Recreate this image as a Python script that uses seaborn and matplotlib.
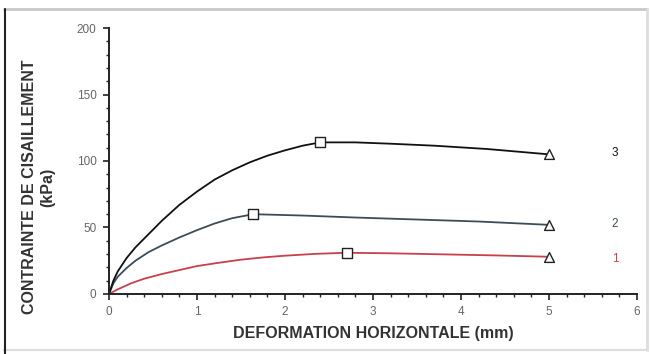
"""Shear stress vs horizontal displacement (three curves)."""

import matplotlib

matplotlib.use("Agg")
import matplotlib.pyplot as plt  # noqa: E402
import pandas as pd  # noqa: E402
import seaborn as sns  # noqa: E402
from matplotlib.ticker import MultipleLocator  # noqa: E402

# values
curve_ids = ["1", "2", "3"]
x_1 = [0, 0.1, 0.25, 0.4, 0.6, 0.8, 1.0, 1.25, 1.5, 1.75, 2.0, 2.35, 2.7,
       3.2, 3.8, 4.4, 5.0]
y_1 = [0, 3.5, 8, 11.5, 15, 18, 21, 23.5, 25.8, 27.5, 28.8, 30.2, 31,
       30.6, 29.8, 29, 28]
x_2 = [0, 0.05, 0.1, 0.2, 0.3, 0.45, 0.6, 0.8, 1.0, 1.2, 1.4, 1.64,
       2.2, 2.8, 3.5, 4.2, 5.0]
y_2 = [0, 8, 13, 19.5, 25, 31.5, 36.5, 42.5, 48, 53, 57, 60,
       59, 57.5, 56, 54.5, 52]
x_3 = [0, 0.05, 0.1, 0.2, 0.3, 0.45, 0.6, 0.8, 1.0, 1.2, 1.4, 1.6, 1.8,
       2.0, 2.2, 2.4, 2.8, 3.2, 3.7, 4.3, 5.0]
y_3 = [0, 10, 17, 27, 35, 45, 55, 67, 77, 86, 93, 99, 104,
       108, 111.5, 114, 114, 113, 111.5, 109, 105]
peak_x = [2.7, 1.64, 2.4]
peak_y = [31, 60, 114]
end_x = [5.0, 5.0, 5.0]
end_y = [28, 52, 105]
label_y = [26, 53, 106]
colors = ["#c8404c", "#3e4c58", "#111111"]

sns.set_theme(style="ticks")
plt.rcParams["font.family"] = ["Liberation Sans", "DejaVu Sans"]

rows = []
for cid, xs, ys in zip(curve_ids, [x_1, x_2, x_3], [y_1, y_2, y_3]):
    for x, y in zip(xs, ys):
        rows.append({"curve": cid, "x": x, "y": y})
df = pd.DataFrame(rows)

fig = plt.figure(figsize=(6.51, 3.54), dpi=100)
ax = fig.add_axes([0.1674, 0.1695, 0.811, 0.7514])

sns.lineplot(data=df, x="x", y="y", hue="curve", palette=dict(zip(curve_ids, colors)),
             sort=False, linewidth=1.3, legend=False, ax=ax)

marks = pd.DataFrame({"curve": curve_ids, "px": peak_x, "py": peak_y,
                      "ex": end_x, "ey": end_y})
sns.scatterplot(data=marks, x="px", y="py", marker="s", s=50, facecolor="white",
                edgecolor="#222222", linewidth=1.0, zorder=5, legend=False, ax=ax)
sns.scatterplot(data=marks, x="ex", y="ey", marker="^", s=50, facecolor="white",
                edgecolor="#222222", linewidth=1.0, zorder=5, legend=False, ax=ax)

for cid, ly, c in zip(curve_ids, label_y, colors):
    ax.text(5.75, ly, cid, fontsize=8.5, color=c, ha="center", va="center")

ax.set_xlim(0, 6)
ax.set_ylim(0, 200)
ax.xaxis.set_major_locator(MultipleLocator(1))
ax.xaxis.set_minor_locator(MultipleLocator(0.2))
ax.yaxis.set_major_locator(MultipleLocator(50))
ax.yaxis.set_minor_locator(MultipleLocator(10))
ax.tick_params(axis="both", which="major", labelsize=8.5, length=4, width=1.2,
               colors="#222222", labelcolor="#666666", pad=5)
ax.tick_params(axis="both", which="minor", length=2.5, width=1.0, colors="#222222")
for s in ["left", "bottom"]:
    ax.spines[s].set_linewidth(1.4)
    ax.spines[s].set_color("#222222")
sns.despine(ax=ax)

ax.set_xlabel("DEFORMATION HORIZONTALE (mm)", fontsize=11.5, fontweight="bold",
              color="#333333", va="center")
ax.xaxis.set_label_coords(0.5, -0.147)
ax.set_ylabel("CONTRAINTE DE CISAILLEMENT\n(kPa)", fontsize=11.5, fontweight="bold",
              color="#333333", linespacing=1.25, va="center")
ax.yaxis.set_label_coords(-0.1326, 0.402)

# scan frame around the figure
fig.add_artist(plt.Line2D([0.006, 0.994], [0.975, 0.975], color="#c8c8c8", lw=2))
fig.add_artist(plt.Line2D([0.994, 0.994], [0.012, 0.975], color="#dddddd", lw=2))
fig.add_artist(plt.Line2D([0.006, 0.994], [0.012, 0.012], color="#dddddd", lw=1.5))
fig.add_artist(plt.Line2D([0.008, 0.008], [0.0, 0.975], color="#222222", lw=1.5))

fig.savefig("out.png", dpi=100)
plt.close(fig)
